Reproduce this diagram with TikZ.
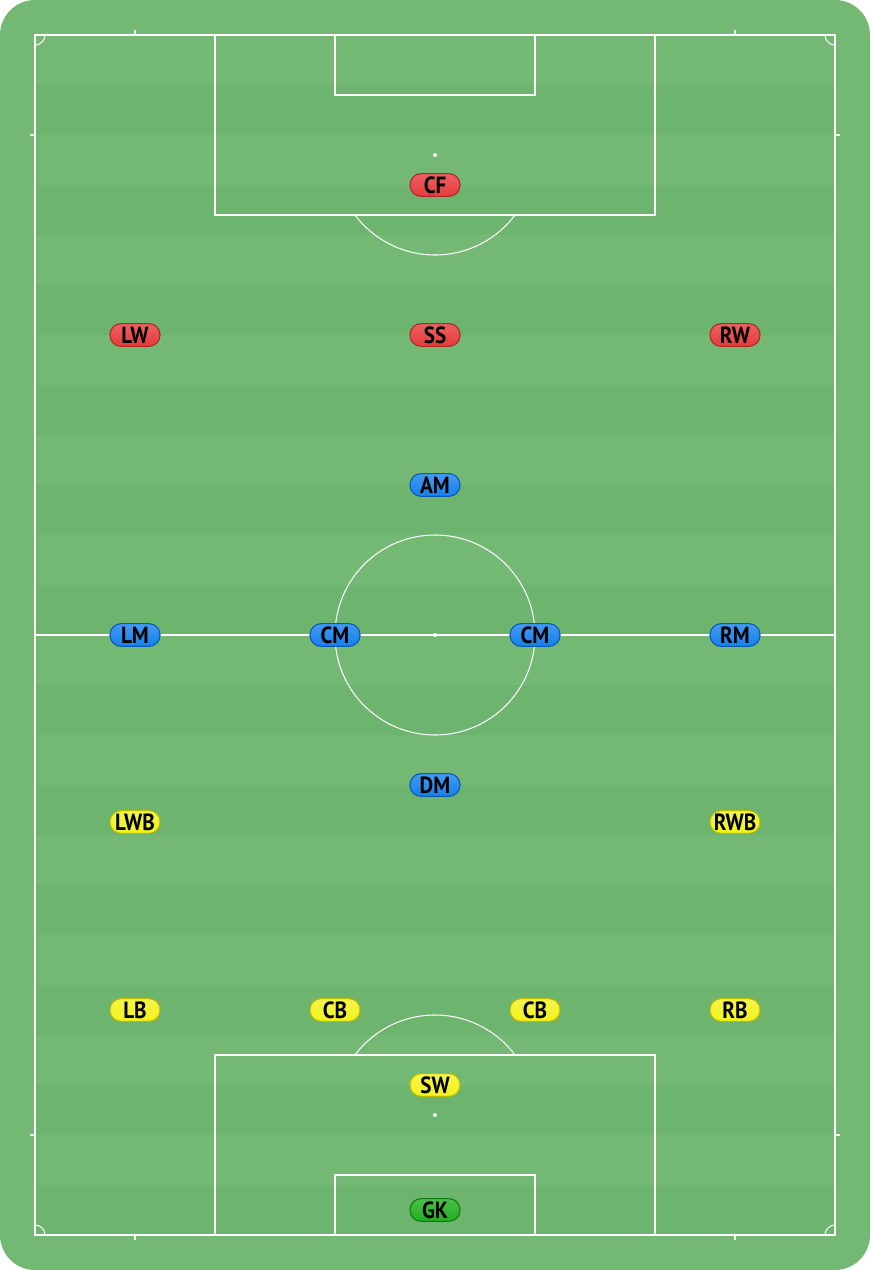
\documentclass[tikz,border=0pt]{standalone}
\usepackage{fontspec}
\setmainfont{PT Sans}
\newfontfamily\pillfont[FakeStretch=0.9]{PT Sans}
\definecolor{grass}{HTML}{73B974}
\definecolor{grassdark}{HTML}{6DB46E}
\definecolor{fwdred}{HTML}{E63A3A}
\definecolor{fwdedge}{HTML}{B02626}
\definecolor{midblue}{HTML}{1580EC}
\definecolor{midedge}{HTML}{0A58B5}
\definecolor{defyellow}{HTML}{F2F21C}
\definecolor{defedge}{HTML}{BABA00}
\definecolor{gkgreen}{HTML}{1FAE1F}
\definecolor{gkedge}{HTML}{0C7C0C}
\tikzset{
  line/.style    = { white, line width=0.9pt },
  spot/.style    = { white },
  player/.style  = { draw, rounded corners=0.33cm, minimum width=1.5cm, minimum height=0.68cm,
                     inner sep=0pt, line width=0.9pt, text=black,
                     font=\pillfont\bfseries\fontsize{20}{20}\selectfont },
  fwd/.style     = { player, draw=fwdedge, top color=fwdred!80!white, bottom color=fwdred },
  mid/.style     = { player, draw=midedge, top color=midblue!80!white, bottom color=midblue },
  back/.style    = { player, draw=defedge, top color=defyellow!80!white, bottom color=defyellow },
  keeper/.style  = { player, draw=gkedge, top color=gkgreen!80!white, bottom color=gkgreen }
}
\begin{document}
\begin{tikzpicture}[x=0.03cm, y=-0.03cm]
\useasboundingbox (0,0) rectangle (870,1270);
\fill[white] (0,0) rectangle (870,1270);
\fill[grass, rounded corners=1.05cm] (0,0) rectangle (870,1270);
% stripes
\foreach \y in {85,185,...,1185}
  \fill[grassdark] (36,\y) rectangle (834,\y+50);
% pitch
\draw[line] (35,35) rectangle (835,1235);
\draw[line] (35,635) -- (835,635);
\draw[line] (435,635) circle[radius=100];
\draw[line] (215,35) rectangle (655,215);
\draw[line] (335,35) rectangle (535,95);
\draw[line] (215,1055) rectangle (655,1235);
\draw[line] (335,1175) rectangle (535,1235);
\draw[line] (355,215) arc[start angle=143.13, end angle=36.87, radius=100];
\draw[line] (355,1055) arc[start angle=-143.13, end angle=-36.87, radius=100];
\fill[spot] (435,155) circle[radius=2];
\fill[spot] (435,635) circle[radius=2];
\fill[spot] (435,1115) circle[radius=2];
% corners
\draw[line] (45,35) arc[start angle=0, end angle=90, radius=10];
\draw[line] (825,35) arc[start angle=180, end angle=90, radius=10];
\draw[line] (35,1225) arc[start angle=-90, end angle=0, radius=10];
\draw[line] (825,1235) arc[start angle=180, end angle=270, radius=10];
% marks
\foreach \x in {135,735} {
  \draw[line] (\x,30) -- (\x,35);
  \draw[line] (\x,1235) -- (\x,1240);
}
\foreach \y in {135,1135} {
  \draw[line] (30,\y) -- (35,\y);
  \draw[line] (835,\y) -- (840,\y);
}
% players
\node[fwd] (cf) at (435,185) {CF};
\node[fwd] (lw) at (135,335) {LW};
\node[fwd] (ss) at (435,335) {SS};
\node[fwd] (rw) at (735,335) {RW};
\node[mid] (am) at (435,485) {AM};
\node[mid] (lm) at (135,635) {LM};
\node[mid] (cml) at (335,635) {CM};
\node[mid] (cmr) at (535,635) {CM};
\node[mid] (rm) at (735,635) {RM};
\node[mid] (dm) at (435,785) {DM};
\node[back] (lwb) at (135,822) {LWB};
\node[back] (rwb) at (735,822) {RWB};
\node[back] (lb) at (135,1010) {LB};
\node[back] (cbl) at (335,1010) {CB};
\node[back] (cbr) at (535,1010) {CB};
\node[back] (rb) at (735,1010) {RB};
\node[back] (sw) at (435,1085) {SW};
\node[keeper] (gk) at (435,1210) {GK};
\end{tikzpicture}
\end{document}
